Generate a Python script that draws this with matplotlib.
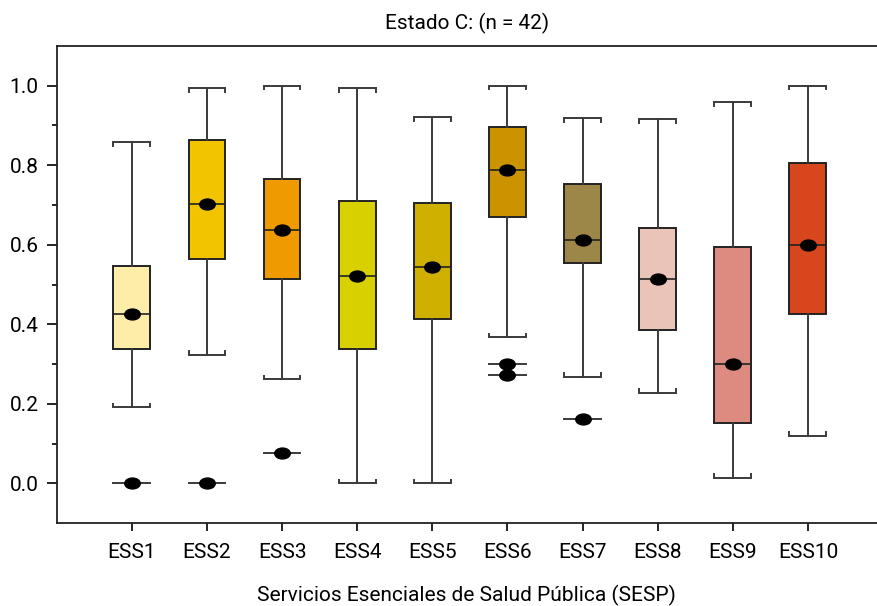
import numpy as np
import matplotlib
matplotlib.use('Agg')
import matplotlib.pyplot as plt
from matplotlib.path import Path
from matplotlib.transforms import Affine2D

plt.rcParams['font.family'] = ['Roboto', 'DejaVu Sans']

# box statistics
labels = ['ESS1', 'ESS2', 'ESS3', 'ESS4', 'ESS5', 'ESS6', 'ESS7', 'ESS8', 'ESS9', 'ESS10']
whislo = [0.192, 0.323, 0.262, 0.0, 0.0, 0.367, 0.268, 0.228, 0.014, 0.120]
q1 = [0.338, 0.565, 0.513, 0.339, 0.414, 0.670, 0.553, 0.385, 0.152, 0.425]
med = [0.426, 0.702, 0.636, 0.521, 0.545, 0.787, 0.611, 0.514, 0.301, 0.599]
q3 = [0.547, 0.863, 0.765, 0.710, 0.705, 0.897, 0.752, 0.642, 0.594, 0.805]
whishi = [0.858, 0.994, 1.0, 0.994, 0.921, 1.0, 0.918, 0.915, 0.958, 1.0]
fliers = [[0.0], [0.0], [0.076], [], [], [0.300, 0.273], [0.162], [], [], []]
colors = ['#FDEDA8', '#F2C400', '#EF9A00', '#D9D000', '#CFB000',
          '#CC9300', '#9D8748', '#EBC4B9', '#DD8A80', '#D8461D']

pos = np.arange(1, len(labels) + 1)
w = 0.49
d = 0.009  # little end ticks on caps
line_c = '#3a3a3a'

# elliptical dot like the original
dot = Path.unit_circle().transformed(Affine2D().scale(1.0, 0.7))

fig = plt.figure(figsize=(8.77, 6.06), dpi=100)
ax = fig.add_axes([0.0647, 0.1365, 0.9353, 0.788])

stats = []
for i in range(len(labels)):
    stats.append({'whislo': whislo[i], 'q1': q1[i], 'med': med[i], 'q3': q3[i],
                  'whishi': whishi[i], 'fliers': [], 'label': labels[i]})

bp = ax.bxp(stats, positions=pos, widths=w, patch_artist=True, showcaps=False,
            showfliers=False,
            boxprops=dict(edgecolor='#222222', linewidth=1.4),
            whiskerprops=dict(color=line_c, linewidth=1.4),
            medianprops=dict(color='#222222', linewidth=1.2))
for patch, c in zip(bp['boxes'], colors):
    patch.set_facecolor(c)

for i, x in enumerate(pos):
    # caps with small end ticks
    ax.plot([x - w/2, x - w/2, x + w/2, x + w/2],
            [whishi[i] - d, whishi[i], whishi[i], whishi[i] - d],
            color=line_c, lw=1.4, solid_joinstyle='miter')
    ax.plot([x - w/2, x - w/2, x + w/2, x + w/2],
            [whislo[i] + d, whislo[i], whislo[i], whislo[i] + d],
            color=line_c, lw=1.4, solid_joinstyle='miter')
    # median dot
    ax.plot(x, med[i], marker=dot, ms=11.2, color='black', zorder=5)
    # outliers
    for f in fliers[i]:
        ax.plot([x - w/2, x + w/2], [f, f], color=line_c, lw=1.4)
        ax.plot(x, f, marker=dot, ms=11.2, color='black', zorder=5)

ax.set_xlim(0, 10.92)
ax.set_ylim(-0.1, 1.1)
ax.set_xticks(pos)
ax.set_xticklabels(labels)
ax.set_yticks(np.arange(0, 1.01, 0.2))
ax.set_yticks(np.arange(0.1, 1.0, 0.2), minor=True)
ax.yaxis.set_major_formatter(matplotlib.ticker.FormatStrFormatter('%.1f'))

ax.spines['right'].set_visible(False)
for s in ['left', 'top', 'bottom']:
    ax.spines[s].set_linewidth(1.3)
    ax.spines[s].set_color('#222222')

ax.tick_params(axis='y', which='major', length=7, width=1.2, labelsize=15, pad=6)
ax.tick_params(axis='y', which='minor', length=3.6, width=1.2)
ax.tick_params(axis='x', which='major', length=6, width=1.2, labelsize=15, pad=8)

ax.set_title('Estado C: (n = 42)', fontsize=15, pad=12)
ax.set_xlabel('Servicios Esenciales de Salud Pública (SESP)', fontsize=15, labelpad=17)

fig.savefig('out.png', dpi=100)
